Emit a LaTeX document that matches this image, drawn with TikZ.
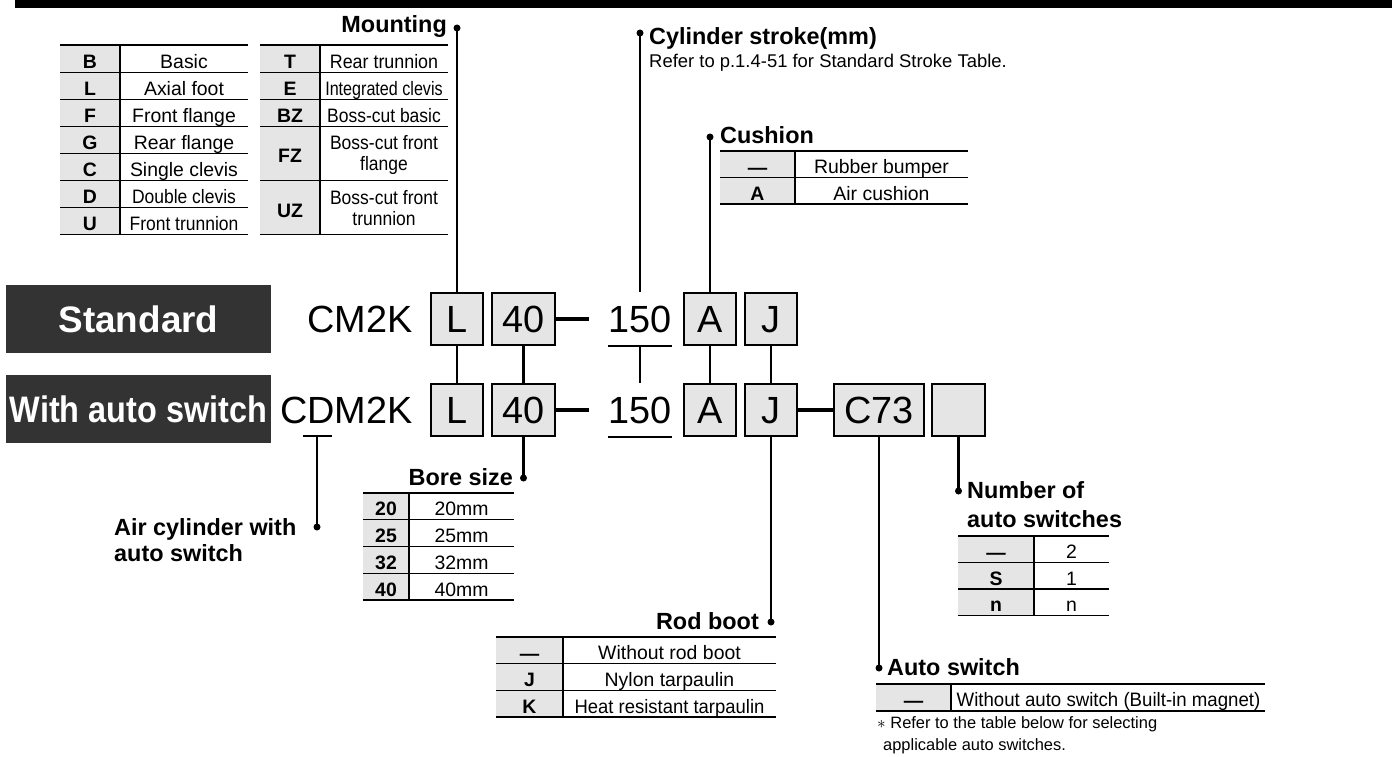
\documentclass[tikz,border=0pt]{standalone}
\usepackage{fontspec}
\setmainfont{Liberation Sans}
\usetikzlibrary{positioning}
\definecolor{cellgray}{RGB}{229,229,229}
\definecolor{tagdark}{RGB}{51,51,51}
\newcommand{\nrw}[2][0.9]{\scalebox{#1}[1]{#2}}
\newcommand{\nodash}{\raisebox{-0.5bp}{—}}

\begin{document}
\begin{tikzpicture}[x=1bp,y=-1bp,
    codetxt/.style={font=\fontsize{38}{38}\selectfont, inner sep=0pt, text height=27pt, text depth=0pt},
    codebox/.style={codetxt, draw, line width=2bp, fill=cellgray, minimum height=52bp},
    rowtag/.style={fill=tagdark, text=white, inner sep=0pt, minimum width=265bp, minimum height=68bp,
        font=\fontsize{37}{37}\selectfont\bfseries, text height=26.5pt, text depth=0pt},
    hdtxt/.style={font=\fontsize{23.5}{28}\selectfont\bfseries, inner sep=0pt},
    notetxt/.style={font=\fontsize{18.5}{22}\selectfont, inner sep=0pt},
    fntxt/.style={font=\fontsize{16.5}{20}\selectfont, inner sep=0pt},
    celltxt/.style={font=\fontsize{19.5}{22}\selectfont, inner sep=0pt, text height=14pt, text depth=0pt, yshift=-2.5bp},
    keytxt/.style={celltxt, font=\fontsize{19.5}{22}\selectfont\bfseries},
    mdot/.style={circle, fill, inner sep=0pt, minimum size=7bp},
    linkline/.style={line width=2.2bp},
    heavyline/.style={line width=4bp},
    ruleline/.style={line width=1.2bp},
    topline/.style={line width=2bp}]
  \useasboundingbox (0,0) rectangle (1397,756);

  % top bar
  \fill (15,0) rectangle (1392,8.5);

  % Mounting
  \node[mdot] (mtdot) at (457,28) {};
  \node[hdtxt, anchor=base east] (mthd) at (447,33) {Mounting};
  \fill[cellgray] (60,45) rectangle (120,234.7);
  \fill[cellgray] (260,45) rectangle (320,234.7);
  \draw[topline] (60,45) -- (248,45) (260,45) -- (448,45);
  \foreach \y in {72.1,99.2,126.3,153.4,180.5,207.6,234.7}
    \draw[ruleline] (60,\y) -- (248,\y);
  \foreach \y in {72.1,99.2,126.3,180.5,234.7}
    \draw[ruleline] (260,\y) -- (448,\y);
  \draw[ruleline] (120,45) -- (120,234.7) (320,45) -- (320,234.7);
  \foreach \k/\d [count=\i] in {B/Basic,L/Axial foot,F/Front flange,G/Rear flange,
      C/Single clevis,D/\nrw{Double clevis},U/\nrw{Front trunnion}} {
    \node[keytxt] (mk\i) at (90,27.1*\i+31.45) {\k};
    \node[celltxt] (md\i) at (184,27.1*\i+31.45) {\d};
  }
  \node[keytxt] (mkT) at (290,58.55) {T};
  \node[celltxt] (mdT) at (384,58.55) {\nrw[0.92]{Rear trunnion}};
  \node[keytxt] (mkE) at (290,85.65) {E};
  \node[celltxt] (mdE) at (384,85.65) {\nrw[0.83]{Integrated clevis}};
  \node[keytxt] (mkBZ) at (290,112.75) {BZ};
  \node[celltxt] (mdBZ) at (384,112.75) {\nrw{Boss-cut basic}};
  \node[keytxt] (mkFZ) at (290,153.4) {FZ};
  \node[celltxt] (mdFZa) at (384,140.5) {\nrw{Boss-cut front}};
  \node[celltxt] (mdFZb) at (384,161.5) {\nrw{flange}};
  \node[keytxt] (mkUZ) at (290,207.6) {UZ};
  \node[celltxt] (mdUZa) at (384,195.5) {\nrw{Boss-cut front}};
  \node[celltxt] (mdUZb) at (384,216.5) {\nrw{trunnion}};

  % Cylinder stroke
  \node[mdot] (csdot) at (640,33) {};
  \node[hdtxt, anchor=base west] (cshd) at (649,45) {Cylinder stroke(mm)};
  \node[notetxt, anchor=base west] (csnote) at (649,68) {Refer to p.1.4-51 for Standard Stroke Table.};

  % Cushion
  \node[mdot] (cudot) at (710,137) {};
  \node[hdtxt, anchor=base west] (cuhd) at (720,143) {Cushion};
  \fill[cellgray] (720,151) rectangle (795,204);
  \draw[topline] (720,151) -- (968,151);
  \draw[ruleline] (720,177.5) -- (968,177.5) (720,204) -- (968,204) (795,151) -- (795,204);
  \node[keytxt] (cuk1) at (757.5,164.25) {\nodash};
  \node[celltxt] (cud1) at (881.5,164.25) {Rubber bumper};
  \node[keytxt] (cuk2) at (757.5,190.75) {A};
  \node[celltxt] (cud2) at (881.5,190.75) {Air cushion};

  % Standard row
  \node[rowtag] (stdtag) at (138.5,319) {Standard};
  \node[codetxt, anchor=east] (cm) at (413,319) {CM2K};
  \node[codebox, minimum width=52bp] (l1) at (457,319) {L};
  \node[codebox, minimum width=63bp] (b1) at (523.5,319) {40};
  \node[codetxt, minimum width=56bp, minimum height=54bp] (s1) at (640,319) {150};
  \node[codebox, minimum width=52bp] (a1) at (710,319) {A};
  \node[codebox, minimum width=52bp] (j1) at (771,319) {J};

  % With auto switch row
  \node[rowtag] (swtag) at (138.5,409) {\nrw[0.88]{With auto switch}};
  \node[codetxt, anchor=east] (cdm) at (413,410) {CDM2K};
  \node[codebox, minimum width=52bp] (l2) at (457,410) {L};
  \node[codebox, minimum width=63bp] (b2) at (523.5,410) {40};
  \node[codetxt, minimum width=56bp, minimum height=54bp] (s2) at (640,410) {150};
  \node[codebox, minimum width=52bp] (a2) at (710,410) {A};
  \node[codebox, minimum width=52bp] (j2) at (771,410) {J};
  \node[codebox, minimum width=90bp] (sw) at (879,410) {C73};
  \node[codebox, minimum width=53bp] (nsw) at (958.5,410) {};
  \coordinate (dl) at (303,436);
  \coordinate (dr) at (332,436);
  \coordinate (dmid) at (317,436);

  % connectors
  \draw[linkline] (mtdot.center) -- (l1.north);
  \draw[linkline] (l1) -- (l2);
  \draw[linkline] (b1) -- (b2);
  \draw[heavyline, shorten >=19bp] (b1.east) -- (s1.west);
  \draw[heavyline, shorten >=19bp] (b2.east) -- (s2.west);
  \draw[linkline] (csdot.center) -- (s1.north);
  \draw[linkline] (s1.south west) -- (s1.south east);
  \draw[linkline] (s1.south) -- (s2.north);
  \draw[linkline] (s2.south west) -- (s2.south east);
  \draw[linkline] (cudot.center) -- (a1.north);
  \draw[linkline] (a1) -- (a2);
  \draw[linkline] (j1) -- (j2);
  \draw[heavyline] (j2) -- (sw);
  \draw[linkline] (dl) -- (dr);

  % Air cylinder with auto switch
  \node[mdot] (acdot) at (317,527) {};
  \node[hdtxt, anchor=base west] (ac1) at (114,535) {Air cylinder with};
  \node[hdtxt, anchor=base west] (ac2) at (114,561) {auto switch};
  \draw[linkline] (dmid) -- (acdot.center);

  % Bore size
  \node[mdot] (bsdot) at (523.5,478) {};
  \node[hdtxt, anchor=base east] (bshd) at (513,485) {Bore size};
  \draw[linkline] (b2.south) -- (bsdot.center);
  \fill[cellgray] (363,493) rectangle (409,600);
  \draw[topline] (363,493) -- (514,493);
  \foreach \y in {519.75,546.5,573.25,600}
    \draw[ruleline] (363,\y) -- (514,\y);
  \draw[ruleline] (409,493) -- (409,600);
  \foreach \k [count=\i] in {20,25,32,40} {
    \node[keytxt] (bk\i) at (386,26.75*\i+479.6) {\k};
    \node[celltxt] (bd\i) at (461.5,26.75*\i+479.6) {\k mm};
  }

  % Rod boot
  \node[mdot] (rbdot) at (771,622) {};
  \node[hdtxt, anchor=base east] (rbhd) at (759,629) {Rod boot};
  \draw[linkline] (j2.south) -- (rbdot.center);
  \fill[cellgray] (496,637) rectangle (563,717);
  \draw[topline] (496,637) -- (776,637);
  \draw[ruleline] (496,663.7) -- (776,663.7) (496,690.3) -- (776,690.3) (496,717) -- (776,717)
    (563,637) -- (563,717);
  \node[keytxt] (rbk1) at (529.5,650.3) {\nodash};
  \node[celltxt] (rbd1) at (669.5,650.3) {Without rod boot};
  \node[keytxt] (rbk2) at (529.5,677) {J};
  \node[celltxt] (rbd2) at (669.5,677) {Nylon tarpaulin};
  \node[keytxt] (rbk3) at (529.5,703.6) {K};
  \node[celltxt] (rbd3) at (669.5,703.6) {\nrw[0.95]{Heat resistant tarpaulin}};

  % Number of auto switches
  \node[mdot] (nsdot) at (958.5,491) {};
  \node[hdtxt, anchor=base west] (ns1) at (967,498) {Number of};
  \node[hdtxt, anchor=base west] (ns2) at (967,527) {auto switches};
  \draw[linkline] (nsw.south) -- (nsdot.center);
  \fill[cellgray] (958,536) rectangle (1034,615.5);
  \draw[topline] (958,536) -- (1109,536);
  \draw[ruleline] (958,562.5) -- (1109,562.5) (958,589) -- (1109,589) (958,615.5) -- (1109,615.5)
    (1034,536) -- (1034,615.5);
  \node[keytxt] (nsk1) at (996,549.25) {\nodash};
  \node[celltxt] (nsd1) at (1071.5,549.25) {2};
  \node[keytxt] (nsk2) at (996,575.75) {S};
  \node[celltxt] (nsd2) at (1071.5,575.75) {1};
  \node[keytxt] (nsk3) at (996,602.25) {n};
  \node[celltxt] (nsd3) at (1071.5,602.25) {n};

  % Auto switch
  \node[mdot] (asdot) at (879,668) {};
  \node[hdtxt, anchor=base west] (ashd) at (887,675) {Auto switch};
  \draw[linkline] (sw.south) -- (asdot.center);
  \fill[cellgray] (876,684) rectangle (951,711);
  \draw[topline] (876,684) -- (1265,684);
  \draw[ruleline] (876,711) -- (1265,711) (951,684) -- (951,711);
  \node[keytxt] (ask1) at (913.5,697.5) {\nodash};
  \node[celltxt] (asd1) at (1108.5,697.5) {\nrw[0.96]{Without auto switch (Built-in magnet)}};
  \node[fntxt, anchor=base west] (fn1) at (877,728) {$\ast$ Refer to the table below for selecting};
  \node[fntxt, anchor=base west] (fn2) at (883,750) {applicable auto switches.};
\end{tikzpicture}
\end{document}
